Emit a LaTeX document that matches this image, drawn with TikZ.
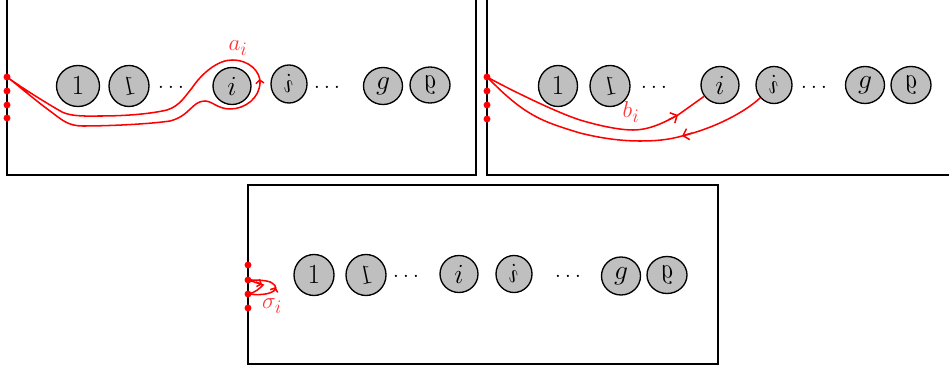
\documentclass[tikz,border=0pt]{standalone}
\usetikzlibrary{arrows.meta,shapes.geometric}
\tikzset{
  x=0.75pt,y=-0.75pt,
  panel/.style={draw=black,line width=0.85pt},
  hole/.style 2 args={draw=black,fill=gray!50,ellipse,line width=1pt,inner sep=0pt,
     minimum width=0.75pt*#1,minimum height=0.75pt*#2,font=\fontsize{19.5}{22}\selectfont},
  curve/.style={draw=red,line width=1.15pt},
  pt/.style={circle,fill=red,inner sep=0pt,minimum size=5.2pt},
  lab/.style={text=red!80!white,inner sep=0pt,font=\fontsize{19}{22}\selectfont},
  dotsn/.style={inner sep=0pt,font=\fontsize{19}{22}\selectfont},
  tip/.style={-{Straight Barb[length=4pt,width=8.5pt]}},
  smalltip/.style={-{Straight Barb[length=2.5pt,width=6pt]}},
}
\newcommand{\mir}[1]{\rotatebox{-13}{\scalebox{-1}[1]{$#1$}}}
\newcommand{\mirt}[1]{\rotatebox{12}{\scalebox{-1}[1]{$#1$}}}
\begin{document}
\begin{tikzpicture}
\useasboundingbox (0,0) rectangle (949,370);
% panels
\path[panel] (7,-5) -- (7,175) -- (476,175) -- (476,-5);
\path[panel] (487,-5) -- (487,175) -- (954,175);
\path[panel] (248,185) rectangle (718,364);
% first panel holes
\node[hole={43}{41}] (a1) at (78,86) {$1$};
\node[hole={40}{41}] (a1m) at (129,86) {\mirt{1}};
\node[dotsn] (ad1) at (171,87) {$\dots$};
\node[hole={38}{37}] (ai) at (232,86) {$i$};
\node[hole={36}{38}] (aim) at (289,84) {\mir{i}};
\node[dotsn] (ad2) at (327,87) {$\dots$};
\node[hole={39}{37}] (ag) at (383,86) {$g$};
\node[hole={40}{36}] (agm) at (430,85) {\mir{g}};
% second panel holes
\node[hole={39}{41}] (b1) at (558,86) {$1$};
\node[hole={40}{41}] (b1m) at (610,86) {\mirt{1}};
\node[dotsn] (bd1) at (654,87) {$\dots$};
\node[hole={38}{37}] (bi) at (720,85) {$i$};
\node[hole={36}{37}] (bim) at (774,85) {\mir{i}};
\node[dotsn] (bd2) at (814,87) {$\dots$};
\node[hole={39}{37}] (bg) at (865,85) {$g$};
\node[hole={40}{37}] (bgm) at (911,85) {\mir{g}};
% third panel holes
\node[hole={40}{41}] (c1) at (314,275) {$1$};
\node[hole={40}{41}] (c1m) at (366,275) {\mirt{1}};
\node[dotsn] (cd1) at (406,276) {$\dots$};
\node[hole={38}{37}] (ci) at (459,274) {$i$};
\node[hole={36}{37}] (cim) at (514,274) {\mir{i}};
\node[dotsn] (cd2) at (568,276) {$\dots$};
\node[hole={39}{38}] (cg) at (621,276) {$g$};
\node[hole={40}{37}] (cgm) at (667,275) {\mir{g}};
% marked points
\node[pt] (p1) at (7,77) {};
\node[pt] (p2) at (7,91) {};
\node[pt] (p3) at (7,105) {};
\node[pt] (p4) at (7,118) {};
\node[pt] (q1) at (487,77) {};
\node[pt] (q2) at (487,91) {};
\node[pt] (q3) at (487,105) {};
\node[pt] (q4) at (487,119) {};
\node[pt] (r1) at (248,265) {};
\node[pt] (r2) at (248,280) {};
\node[pt] (r3) at (248,294) {};
\node[pt] (r4) at (248,308) {};
% a_i
\coordinate (atip) at (259.5,79);
\draw[curve] (p1.center) .. controls (25,90) and (48,104) .. (62,112)
  .. controls (72,117) and (90,116) .. (100,116)
  .. controls (125,116) and (150,114) .. (167,110)
  .. controls (180,106) and (186,95) .. (192,88)
  .. controls (202,73) and (218,60) .. (232,60)
  .. controls (250,60) and (260,72) .. (260,82)
  .. controls (260,98) and (245,109) .. (230,109)
  .. controls (218,109) and (212,101) .. (205,101)
  .. controls (192,101) and (190,116) .. (170,121)
  .. controls (150,124) and (110,126) .. (83,126)
  .. controls (68,126) and (62,120) .. (50,111)
  .. controls (35,100) and (20,87) .. (p1.center);
\draw[curve,smalltip] (260,84) -- (atip);
\node[lab] (la) at (238,48) {$a_i$};
% b_i
\coordinate (btipa) at (678,115);
\coordinate (btipb) at (682,136);
\draw[curve] (q1.center) .. controls (505,87) and (555,112) .. (580,120)
  .. controls (600,126) and (620,130) .. (633,130)
  .. controls (650,130) and (665,122) .. (btipa);
\draw[curve,tip] (668,120) -- (btipa);
\draw[curve] (btipa) -- (bi);
\draw[curve] (bim) .. controls (745,112) and (715,128) .. (btipb)
  .. controls (668,140) and (655,141) .. (640,141)
  .. controls (620,141) and (600,138) .. (580,133)
  .. controls (560,127) and (545,122) .. (533,115)
  .. controls (515,105) and (500,90) .. (q1.center);
\draw[curve,tip] (692,133) -- (btipb);
\node[lab] (lb) at (631,112) {$b_i$};
% sigma_i
\coordinate (stip) at (275.5,287);
\draw[curve] (r2.center) .. controls (256,280) and (268,280) .. (272,283)
  .. controls (277,286) and (277,290) .. (272,292)
  .. controls (266,295) and (256,295) .. (r3.center);
\draw[curve] (r2.center) .. controls (254,282) and (258,283) .. (263,285)
  .. controls (260,288) and (255,293) .. (r3.center);
\draw[curve,smalltip] (256,282) -- (262,284.5);
\draw[curve,smalltip] (274,291) -- (stip);
\node[lab] (ls) at (272,306) {$\sigma_i$};
\end{tikzpicture}
\end{document}
